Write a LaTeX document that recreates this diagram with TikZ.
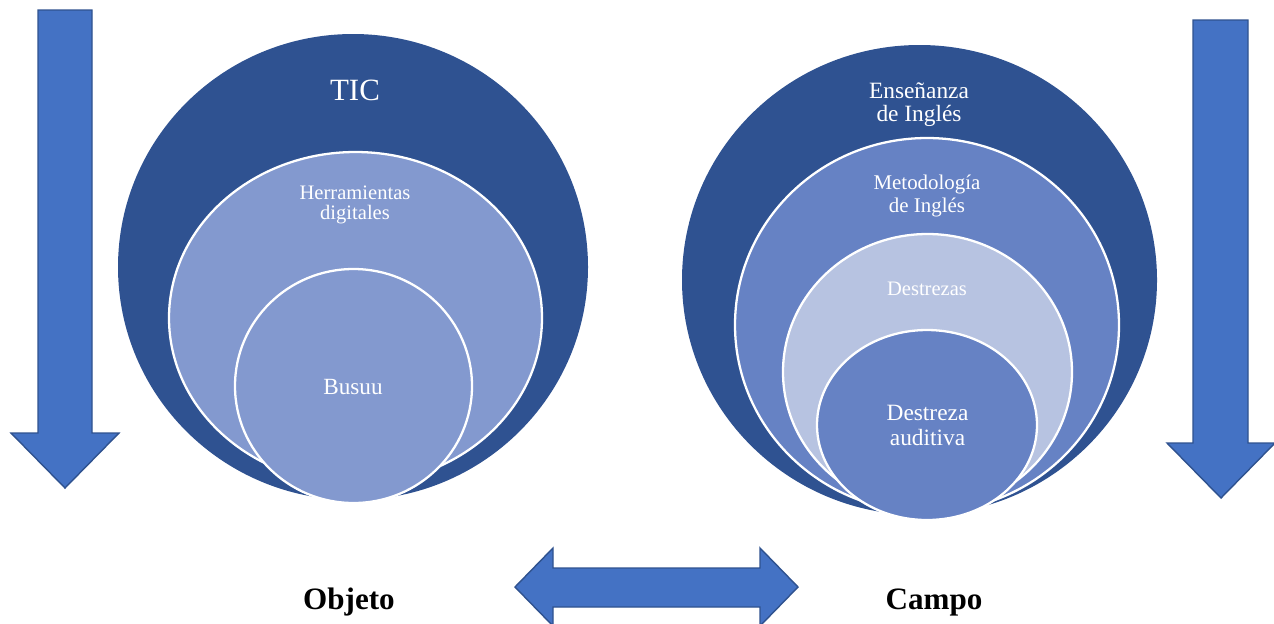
\documentclass[tikz,border=0pt]{standalone}
\usepackage{fontspec}
\setmainfont{Liberation Serif}
\definecolor{ticdark}{RGB}{47,82,145}
\definecolor{herrblue}{RGB}{131,153,207}
\definecolor{metblue}{RGB}{102,130,196}
\definecolor{destlight}{RGB}{183,195,225}
\definecolor{arrowfill}{RGB}{68,114,196}
\definecolor{arrowline}{RGB}{47,82,143}

\begin{document}
\begin{tikzpicture}[x=0.02cm, y=-0.02cm,
    ring/.style={draw=white, line width=1.3pt},
    blockarrow/.style={fill=arrowfill, draw=arrowline, line width=0.8pt, line join=miter},
    txt/.style={text=white, align=center, inner sep=0pt}]
    \useasboundingbox (0,0) rectangle (1274,623);
    % arrows
    \draw[blockarrow] (38,10) -- (92,10) -- (92,433) -- (119,433) -- (65,488) -- (11,433) -- (38,433) -- cycle;
    \draw[blockarrow] (1193,20) -- (1248,20) -- (1248,443) -- (1275,443) -- (1221,498) -- (1167,443) -- (1193,443) -- cycle;
    \draw[blockarrow] (515,587) -- (553,548) -- (553,568) -- (760,568) -- (760,548) -- (798,587)
        -- (760,626) -- (760,607) -- (553,607) -- (553,626) -- cycle;
    % left target
    \fill[ticdark] (353,267) ellipse [x radius=235, y radius=233];
    \filldraw[herrblue, ring] (355.5,318) ellipse [x radius=186.5, y radius=166];
    \filldraw[herrblue, ring] (353.5,386) ellipse [x radius=118.5, y radius=117];
    % right target
    \fill[ticdark] (919.5,280) ellipse [x radius=237.5, y radius=235];
    \filldraw[metblue, ring] (927,325) ellipse [x radius=192, y radius=187];
    \filldraw[destlight, ring] (927.5,372) ellipse [x radius=144.5, y radius=138];
    \filldraw[metblue, ring] (927,425) ellipse [x radius=110, y radius=95];
    % texts
    \node[txt, font=\fontsize{17.6}{18}\selectfont] (tic) at (355,90) {TIC};
    \node[txt, font=\fontsize{11.7}{11.4}\selectfont] (herr) at (355,205) {Herramientas\\digitales};
    \node[txt, font=\fontsize{13.2}{14}\selectfont] (busuu) at (353,387) {Busuu};
    \node[txt, font=\fontsize{13.3}{13}\selectfont] (ense) at (919,104.5) {Enseñanza\\de Inglés};
    \node[txt, font=\fontsize{11.9}{12.7}\selectfont] (meto) at (927,196) {Metodología\\de Inglés};
    \node[txt, font=\fontsize{11.7}{12}\selectfont] (destr) at (927,288.5) {Destrezas};
    \node[txt, font=\fontsize{13.3}{14.2}\selectfont] (audit) at (927.5,425.5) {Destreza\\auditiva};
    \node[anchor=base, inner sep=0pt, font=\bfseries\fontsize{17.7}{18}\selectfont] (objeto) at (349,609) {Objeto};
    \node[anchor=base, inner sep=0pt, font=\bfseries\fontsize{17.7}{18}\selectfont] (campo) at (934,609) {Campo};
\end{tikzpicture}
\end{document}
